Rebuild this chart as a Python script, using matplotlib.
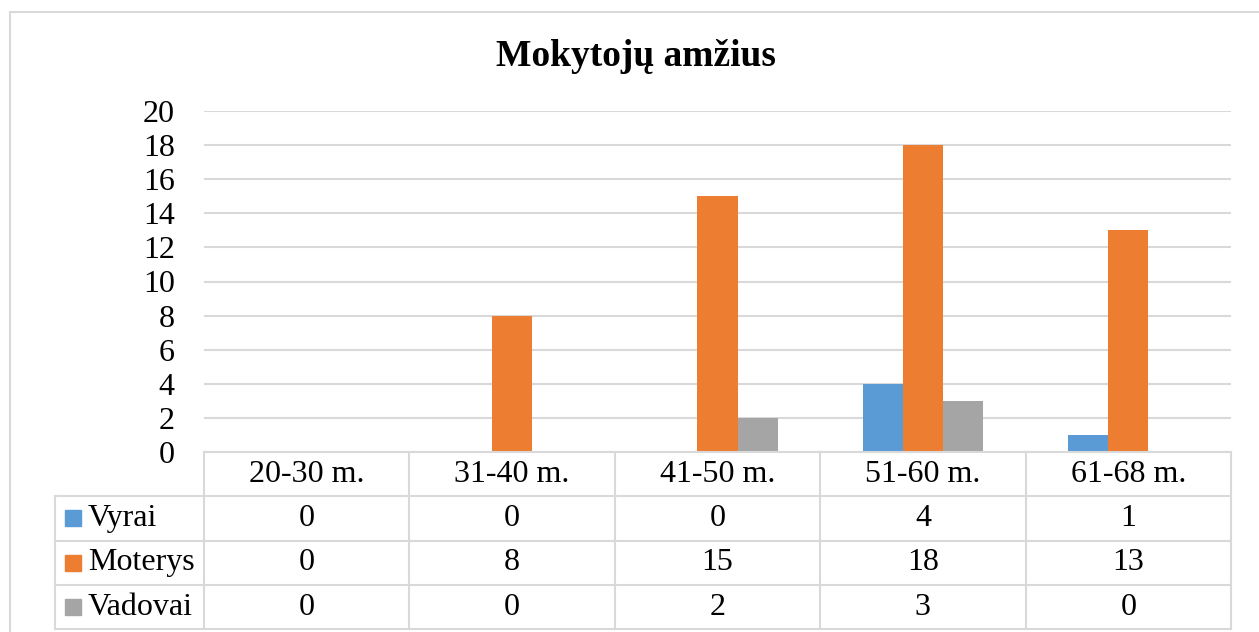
import numpy as np
import matplotlib
matplotlib.use("Agg")
import matplotlib.pyplot as plt
from matplotlib.lines import Line2D
from matplotlib.patches import Rectangle

plt.rcParams["font.family"] = ["Liberation Serif", "DejaVu Serif"]

# ---------------- data ----------------
title = "Mokytojų amžius"
categories = ["20-30 m.", "31-40 m.", "41-50 m.", "51-60 m.", "61-68 m."]
series_names = ["Vyrai", "Moterys", "Vadovai"]
vyrai = [0, 0, 0, 4, 1]
moterys = [0, 8, 15, 18, 13]
vadovai = [0, 0, 2, 3, 0]
values = [vyrai, moterys, vadovai]
colors = ["#5B9BD5", "#ED7D31", "#A5A5A5"]
yticks = list(range(0, 21, 2))

W, H = 1259, 632
grid_c = "#D9D9D9"
fs = 23

fig = plt.figure(figsize=(W / 100, H / 100), dpi=100)


def fx(px):
    return px / W


def fy(py):
    return 1 - py / H


# plot area
x0, x1 = 204, 1231
y_top, y_zero = 111, 452
ax = fig.add_axes([fx(x0), fy(y_zero), fx(x1 - x0), (y_zero - y_top) / H])
ax.set_xlim(-0.5, len(categories) - 0.5)
ax.set_ylim(0, 20)

x = np.arange(len(categories))
bw = 0.195
for i, (vals, c) in enumerate(zip(values, colors)):
    ax.bar(x + (i - 1) * bw, vals, width=bw, color=c, zorder=3)

ax.set_yticks(yticks)
ax.set_yticklabels([str(t) for t in yticks], fontsize=fs)
ax.tick_params(axis="y", length=0, pad=21)
ax.set_xticks([])
ax.grid(axis="y", color=grid_c, linewidth=1.5, zorder=0)
for s in ax.spines.values():
    s.set_visible(False)

# title
fig.text(fx(636), fy(56), title, ha="center", va="center",
         fontsize=27, fontweight="bold")

# outer chart border (left and top visible)
fig.add_artist(Line2D([fx(10), fx(10)], [fy(12), 0], color=grid_c, lw=1.5))
fig.add_artist(Line2D([fx(10), 1], [fy(12), fy(12)], color=grid_c, lw=1.5))

# data table
col_w = (x1 - x0) / len(categories)
col_edges = [x0 + k * col_w for k in range(len(categories) + 1)]
row_edges = [452, 496.3, 540.6, 584.9, 629.2]
leg_left = 55

lw = 1.5
# horizontal lines
fig.add_artist(Line2D([fx(x0), fx(x1)], [fy(row_edges[0])] * 2, color=grid_c, lw=lw))
for r in row_edges[1:]:
    fig.add_artist(Line2D([fx(leg_left), fx(x1)], [fy(r)] * 2, color=grid_c, lw=lw))
# vertical lines
fig.add_artist(Line2D([fx(leg_left)] * 2, [fy(row_edges[1]), fy(row_edges[-1])], color=grid_c, lw=lw))
for cx in col_edges:
    fig.add_artist(Line2D([fx(cx)] * 2, [fy(row_edges[0]), fy(row_edges[-1])], color=grid_c, lw=lw))

# header row
for k, cat in enumerate(categories):
    cx = (col_edges[k] + col_edges[k + 1]) / 2
    cy = (row_edges[0] + row_edges[1]) / 2
    fig.text(fx(cx), fy(cy), cat, ha="center", va="center", fontsize=fs)

# series rows
for i, (name, vals, c) in enumerate(zip(series_names, values, colors)):
    cy = (row_edges[i + 1] + row_edges[i + 2]) / 2
    fig.add_artist(Rectangle((fx(65), fy(cy + 8)), fx(16), 16 / H, color=c))
    fig.text(fx(88), fy(cy), name, ha="left", va="center", fontsize=fs)
    for k, v in enumerate(vals):
        cx = (col_edges[k] + col_edges[k + 1]) / 2
        fig.text(fx(cx), fy(cy), str(v), ha="center", va="center", fontsize=fs)

fig.savefig("out.png", dpi=100, facecolor="white")
